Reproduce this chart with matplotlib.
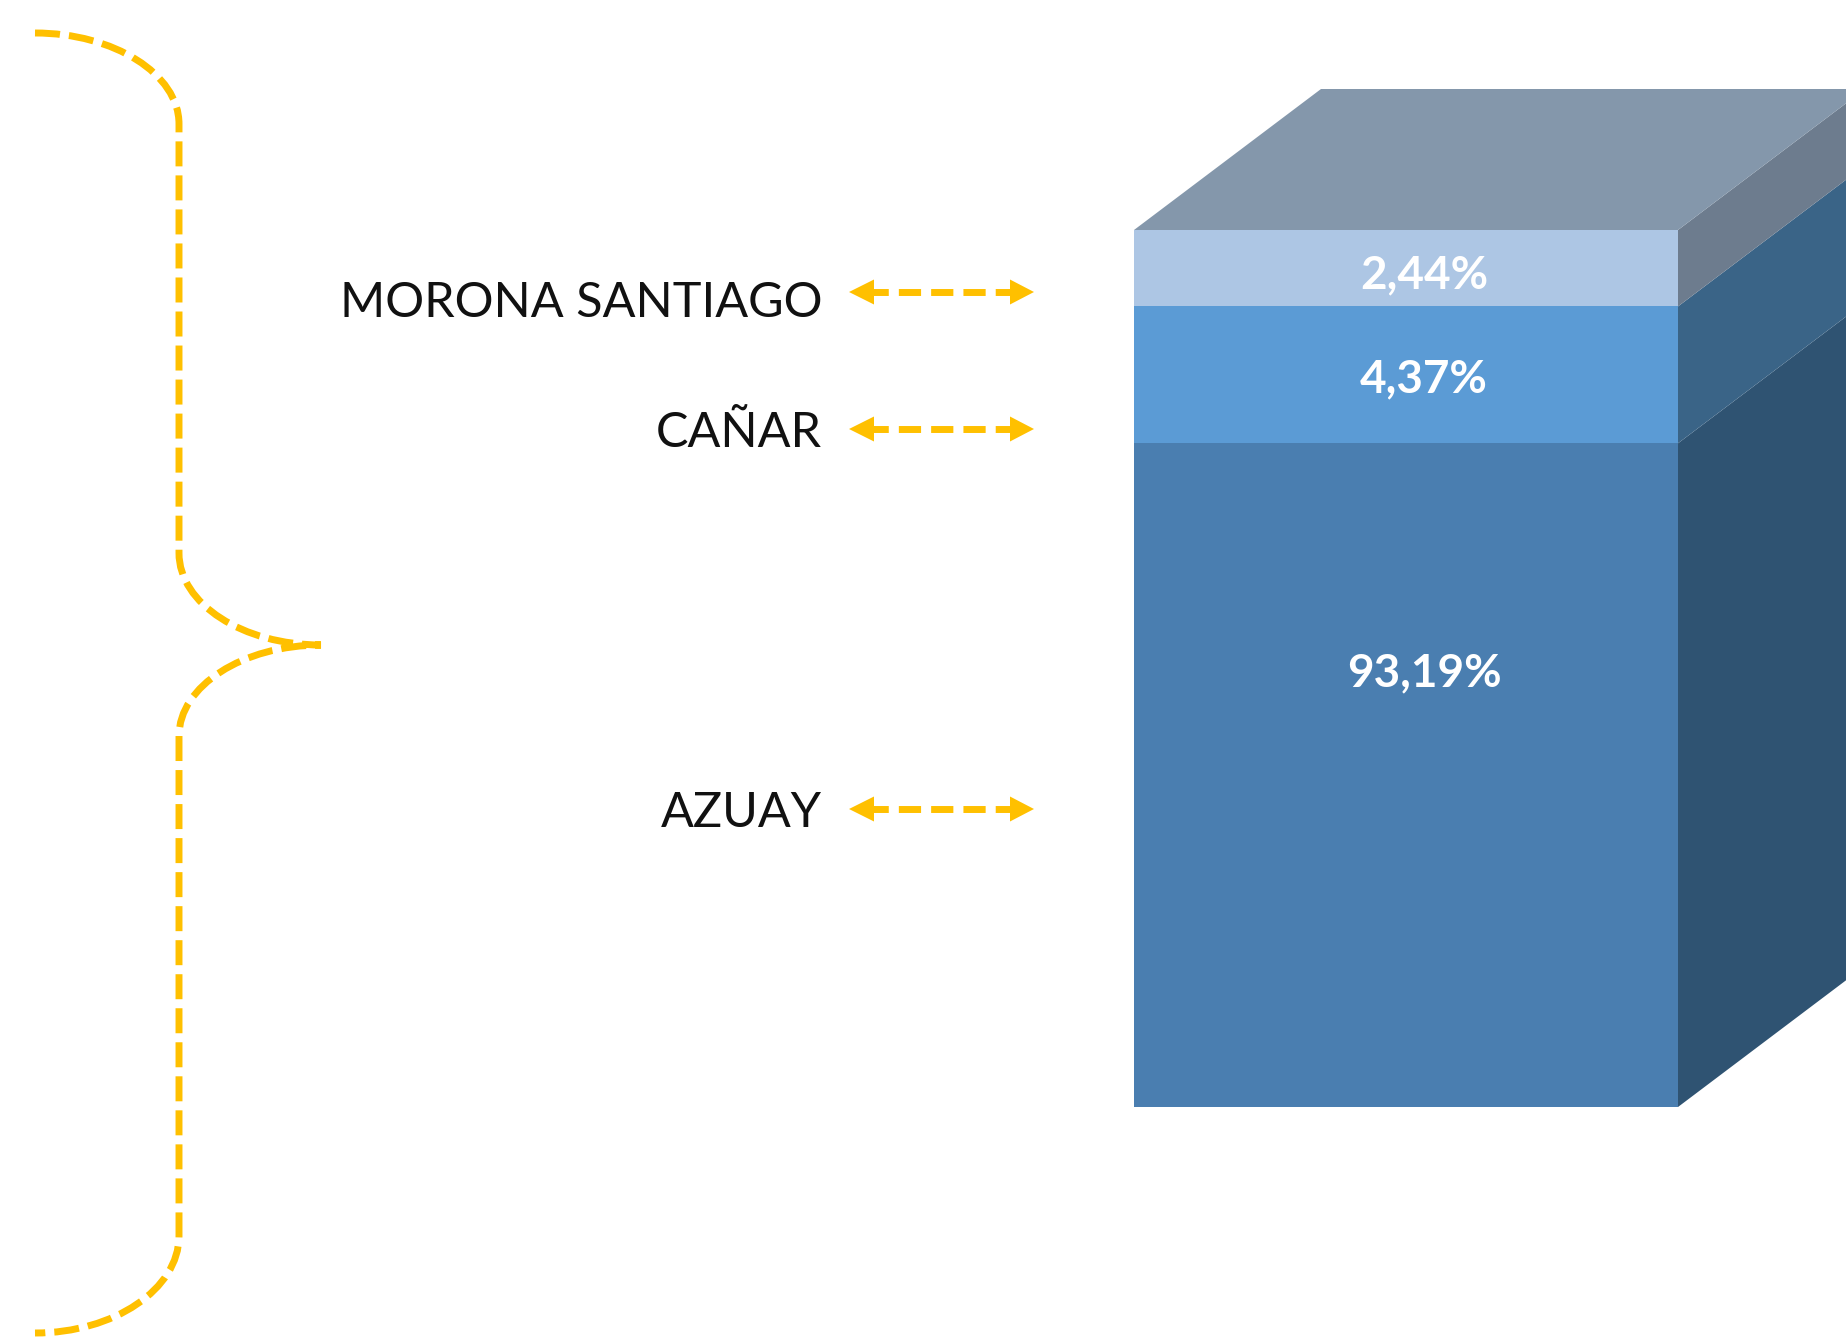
import matplotlib.pyplot as plt
from matplotlib.patches import Polygon, PathPatch
from matplotlib.path import Path

# data (stacked from bottom)
regions = ['AZUAY', 'CAÑAR', 'MORONA SANTIAGO']
shares = [93.19, 4.37, 2.44]
pct_labels = ['93,19%', '4,37%', '2,44%']

front_colors = ['#4a7eb0', '#5b9bd5', '#adc6e4']
side_colors = ['#2f5372', '#3a6487', '#6d7c8e']
top_color = '#8497ab'
orange = '#ffc000'

W, H = 1846, 1341
fig = plt.figure(figsize=(W / 100, H / 100), dpi=100)
plt.rcParams['font.family'] = ['Lato', 'DejaVu Sans']

# axes for the bar: x in layout px, y in value units (axis starts at 72)
floor = 72
ppu = (1107 - 230) / (100 - floor)
ax = fig.add_axes([0, 0, 1, 1])
ax.set_xlim(0, W)
ax.set_ylim(floor - (H - 1107) / ppu, 100 + 230 / ppu)
ax.axis('off')

# axes for annotations, in px
ann = fig.add_axes([0, 0, 1, 1])
ann.set_xlim(0, W)
ann.set_ylim(H, 0)
ann.axis('off')
ann.patch.set_alpha(0)

x_left, x_right = 1134, 1678
x_mid = (x_left + x_right) / 2
dx, dy = 187, 141 / ppu

tops = []
acc = 0
for s in shares:
    acc += s
    tops.append(acc)
bottoms = [floor] + tops[:-1]
heights = [t - b for t, b in zip(tops, bottoms)]

ax.bar([x_mid] * 3, heights, bottom=bottoms, width=x_right - x_left,
       color=front_colors, linewidth=0)

for b, h, c in zip(bottoms, heights, side_colors):
    ax.add_patch(Polygon([(x_right, b), (x_right + dx, b + dy),
                          (x_right + dx, b + h + dy), (x_right, b + h)],
                         closed=True, facecolor=c, edgecolor='none'))
top = tops[-1]
ax.add_patch(Polygon([(x_left, top), (x_right, top), (x_right + dx, top + dy),
                      (x_left + dx, top + dy)], closed=True,
                     facecolor=top_color, edgecolor='none'))

label_shift = [3.25, -0.15, -0.22]
for b, h, t, sh in zip(bottoms, heights, pct_labels, label_shift):
    ax.text(x_mid + 18, b + h / 2 + sh, t, color='white', fontsize=33,
            fontweight='bold', ha='center', va='center')

# region names with double arrows
name_y = [813, 433, 303]
arrow_y = [809, 429, 292]
for name, ny, ay in zip(regions, name_y, arrow_y):
    ann.text(822, ny, name, fontsize=35, color='#111111', ha='right', va='center')
    ann.plot([873, 1012], [ay, ay], color=orange, lw=5,
             linestyle=(1.0, (3.2, 1.45)), dash_capstyle='butt')
    ann.add_patch(Polygon([(849, ay), (874, ay - 12.5), (874, ay + 12.5)],
                          closed=True, facecolor=orange, edgecolor='none'))
    ann.add_patch(Polygon([(1034, ay), (1010, ay - 12.5), (1010, ay + 12.5)],
                          closed=True, facecolor=orange, edgecolor='none'))

# curly brace
verts = [(35, 33), (114, 33), (179, 74), (179, 124),
         (179, 553),
         (179, 604), (243, 645), (321, 645),
         (243, 645), (179, 686), (179, 736),
         (179, 1236),
         (179, 1289), (114, 1333), (35, 1333)]
codes = [Path.MOVETO, Path.CURVE4, Path.CURVE4, Path.CURVE4,
         Path.LINETO,
         Path.CURVE4, Path.CURVE4, Path.CURVE4,
         Path.CURVE4, Path.CURVE4, Path.CURVE4,
         Path.LINETO,
         Path.CURVE4, Path.CURVE4, Path.CURVE4]
ann.add_patch(PathPatch(Path(verts, codes), facecolor='none', edgecolor=orange,
                        lw=5, linestyle=(0, (3.6, 1.3)), capstyle='butt'))

fig.savefig('out.png', dpi=100, facecolor='white')
